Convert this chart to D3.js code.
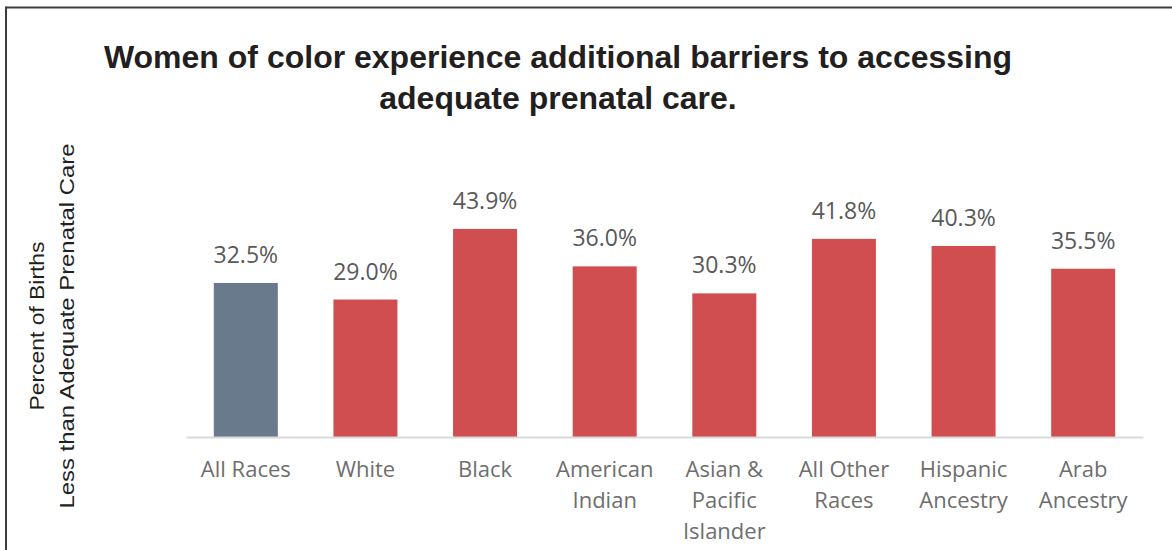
<!DOCTYPE html>
<html>
<head>
<meta charset="utf-8">
<script src="https://cdn.jsdelivr.net/npm/d3@7"></script>
<style>
  html, body { margin: 0; padding: 0; background: #fff; }
  svg { display: block; }
</style>
</head>
<body>
<svg id="chart" width="1172" height="550"></svg>
<script>
// Prenatal care adequacy by race / ancestry
const categories = [
  ["All Races"],
  ["White"],
  ["Black"],
  ["American", "Indian"],
  ["Asian &", "Pacific", "Islander"],
  ["All Other", "Races"],
  ["Hispanic", "Ancestry"],
  ["Arab", "Ancestry"]
];
const values = [32.5, 29.0, 43.9, 36.0, 30.3, 41.8, 40.3, 35.5];
const titleLines = [
  "Women of color experience additional barriers to accessing",
  "adequate prenatal care."
];
const yTitleLines = ["Percent of Births", "Less than Adequate Prenatal Care"];

const svg = d3.select("#chart");
const W = 1172, H = 550;

svg.append("rect").attr("width", W).attr("height", H).attr("fill", "#fff");

// frame lines (top and left)
svg.append("line").attr("x1", 6).attr("x2", W).attr("y1", 7.5).attr("y2", 7.5)
  .attr("stroke", "#3d3d3d").attr("stroke-width", 2);
svg.append("line").attr("x1", 6).attr("x2", 6).attr("y1", 6.5).attr("y2", H)
  .attr("stroke", "#3d3d3d").attr("stroke-width", 2);

// title
svg.append("text")
  .attr("x", 558).attr("y", 68)
  .attr("text-anchor", "middle")
  .attr("font-family", "'Liberation Sans', Arial, sans-serif")
  .attr("font-weight", "bold")
  .attr("font-size", 32)
  .attr("fill", "#231f20")
  .selectAll("tspan").data(titleLines).join("tspan")
  .attr("x", 558).attr("dy", (d, i) => i === 0 ? 0 : 41)
  .text(d => d);

// y-axis title (two stacked lines, stretched along the axis)
const yTitleLen = [169, 365];
const yTitle = svg.append("g").attr("transform", "translate(44,326) rotate(-90)");
yTitle.selectAll("text").data(yTitleLines).join("text")
  .attr("x", 0)
  .attr("y", (d, i) => i * 29.5)
  .attr("text-anchor", "middle")
  .attr("font-family", "'Liberation Sans', Arial, sans-serif")
  .attr("font-size", 20)
  .attr("fill", "#231f20")
  .attr("textLength", (d, i) => yTitleLen[i])
  .attr("lengthAdjust", "spacingAndGlyphs")
  .text(d => d);

const x = d3.scaleBand()
  .domain(categories.map(d => d.join(" ")))
  .range([186, 1143])
  .paddingInner(0.465)
  .paddingOuter(0.2325);

const y = d3.scaleLinear().domain([0, 50]).range([437, 200]);

const data = categories.map((c, i) => ({ key: c.join(" "), lines: c, value: values[i], i }));

// bars
svg.append("g").selectAll("rect").data(data).join("rect")
  .attr("x", d => x(d.key))
  .attr("y", d => y(d.value))
  .attr("width", x.bandwidth())
  .attr("height", d => y(0) - y(d.value))
  .attr("fill", d => d.i === 0 ? "#687a8c" : "#d04e50");

// baseline axis
const xAxis = d3.axisBottom(x).tickSize(0).tickFormat("");
const axisG = svg.append("g").attr("transform", `translate(0,${y(0)})`).call(xAxis);
axisG.select(".domain").attr("stroke", "#d9d9d9").attr("stroke-width", 2);

// value labels
svg.append("g").selectAll("text").data(data).join("text")
  .attr("x", d => x(d.key) + x.bandwidth() / 2)
  .attr("y", d => y(d.value) - 20)
  .attr("text-anchor", "middle")
  .attr("font-family", "'Open Sans', sans-serif")
  .attr("font-size", 23)
  .attr("fill", "#595959")
  .text(d => d.value.toFixed(1) + "%");

// category labels
svg.append("g").selectAll("text").data(data).join("text")
  .attr("x", d => x(d.key) + x.bandwidth() / 2)
  .attr("y", 477)
  .attr("text-anchor", "middle")
  .attr("font-family", "'Open Sans', sans-serif")
  .attr("font-size", 22)
  .attr("fill", "#6e6e6e")
  .each(function (d) {
    d3.select(this).selectAll("tspan").data(d.lines).join("tspan")
      .attr("x", x(d.key) + x.bandwidth() / 2)
      .attr("dy", (t, i) => i === 0 ? 0 : 31)
      .text(t => t);
  });
</script>
</body>
</html>
